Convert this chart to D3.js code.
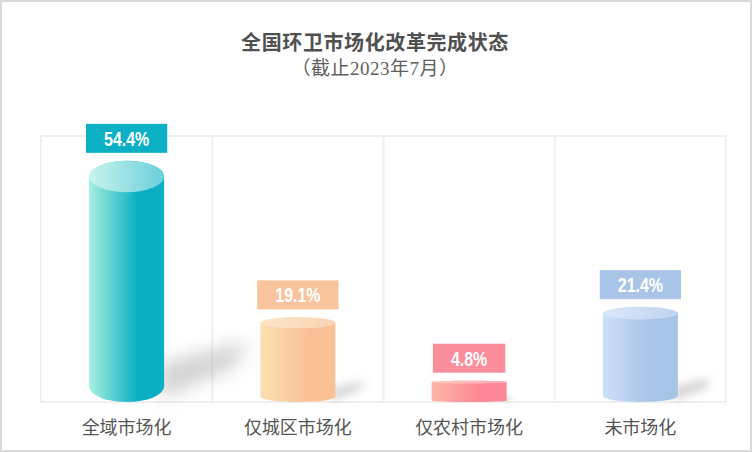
<!DOCTYPE html>
<html><head><meta charset="utf-8">
<script src="https://cdn.jsdelivr.net/npm/d3@7"></script>
<style>html,body{margin:0;padding:0;background:#fff;}svg{display:block;}</style>
</head><body><div id="chart"></div>
<script>
const categories = ["全域市场化","仅城区市场化","仅农村市场化","未市场化"];
const values = [54.4, 19.1, 4.8, 21.4];
const labels = ["54.4%","19.1%","4.8%","21.4%"];
const yTicks = [0, 60];
const labelColors = ["#0bb0c4","#f9c49b","#fb8d9b","#a8c5e8"];
const sideLight = ["#a6f0e0","#fcdfb0","#fbb7a7","#cddff7"];
const sideDark  = ["#0aafc4","#f9c195","#fc8797","#a6c3e8"];
const topLight  = ["#c8f4ee","#fce6c8","#fcc8c0","#dbe7f8"];
const topDark   = ["#6bcedb","#fad2b4","#fdaab4","#bfd4ef"];

const W = 752, H = 452;
const svg = d3.select("#chart").append("svg").attr("width", W).attr("height", H);
const defs = svg.append("defs");

svg.append("rect").attr("x",1).attr("y",1).attr("width",W-2).attr("height",H-2)
  .attr("fill","#fff").attr("stroke","#d9d9d9").attr("stroke-width",2);

const x = d3.scaleBand().domain(categories).range([41, 726]);
const y = d3.scaleLinear().domain([yTicks[0], yTicks[1]]).range([402, 136]);

// title
svg.append("text").attr("x",375).attr("y",43).attr("text-anchor","middle").attr("dominant-baseline","central")
  .attr("font-family","'Liberation Serif','Noto Sans CJK SC',serif").attr("font-weight","bold")
  .attr("font-size",20).attr("letter-spacing",0.6).attr("fill","#505050").text("全国环卫市场化改革完成状态");
svg.append("text").attr("x",375).attr("y",68).attr("text-anchor","middle").attr("dominant-baseline","central")
  .attr("font-family","'Liberation Serif','Noto Sans CJK SC',serif")
  .attr("font-size",19).attr("letter-spacing",0.5).attr("fill","#606060").text("（截止2023年7月）");

// grid
const grid = svg.append("g").attr("stroke","#efefef").attr("stroke-width",2);
const bounds = categories.map(c => x(c)).concat([x.range()[1]]);
bounds.forEach(b => grid.append("line").attr("x1",b).attr("x2",b).attr("y1",y(yTicks[1])).attr("y2",y(yTicks[0])));
yTicks.forEach(t => grid.append("line").attr("x1",x.range()[0]-1).attr("x2",x.range()[1]+1).attr("y1",y(t)).attr("y2",y(t)));

categories.forEach((c,i) => {
  const gs = defs.append("linearGradient").attr("id","side"+i).attr("x1","0%").attr("x2","100%");
  gs.append("stop").attr("offset","0%").attr("stop-color",sideLight[i]);
  gs.append("stop").attr("offset","65%").attr("stop-color",sideDark[i]);
  gs.append("stop").attr("offset","100%").attr("stop-color",sideDark[i]);
  const gt = defs.append("linearGradient").attr("id","top"+i).attr("x1","0%").attr("x2","100%");
  gt.append("stop").attr("offset","0%").attr("stop-color",topLight[i]);
  gt.append("stop").attr("offset","100%").attr("stop-color",topDark[i]);
  const hgt = y(0) - y(values[i]);
  const f = defs.append("filter").attr("id","blur"+i).attr("x","-50%").attr("y","-50%").attr("width","200%").attr("height","200%");
  f.append("feGaussianBlur").attr("stdDeviation", 2 + hgt*0.03);
});

const bw = x.bandwidth()*0.438;
const gBars = svg.append("g");
categories.forEach((c,i) => {
  const cx = x(c) + x.bandwidth()/2;
  const x0 = cx - bw/2, x1 = cx + bw/2;
  const yb = y(0), yt = y(values[i]);
  const hgt = yb - yt;
  const ry = Math.max(1, hgt*0.065);
  const rx = bw/2;
  gBars.append("path")
    .attr("d", `M${x1-4},${yb-0.16*hgt} L${x1+0.34*hgt},${yb-0.25*hgt} L${x1+0.30*hgt},${yb-0.15*hgt} L${x1-4},${yb-0.01*hgt}Z`)
    .attr("fill","#b5b5b5").attr("opacity",0.6).attr("filter","url(#blur"+i+")");
  gBars.append("path")
    .attr("d", `M${x0},${yt+ry} L${x0},${yb-ry} A${rx},${ry} 0 0 0 ${x1},${yb-ry} L${x1},${yt+ry} A${rx},${ry} 0 0 0 ${x0},${yt+ry}Z`)
    .attr("fill","url(#side"+i+")");
  gBars.append("ellipse").attr("cx",cx).attr("cy",yt+ry).attr("rx",rx).attr("ry",ry)
    .attr("fill","url(#top"+i+")");
});

// value labels
const sx = 0.76;
const gLab = svg.append("g");
categories.forEach((c,i) => {
  const cx = x(c) + x.bandwidth()/2;
  const yt = y(values[i]);
  const t = gLab.append("text").attr("transform",`translate(${cx},${yt-8-14.5}) scale(${sx},1)`)
    .attr("text-anchor","middle").attr("dominant-baseline","central")
    .attr("font-family","'Liberation Sans',Arial,sans-serif")
    .attr("font-weight","bold").attr("font-size",21).attr("fill","#fff").text(labels[i]);
  const tw = t.node().getComputedTextLength()*sx;
  gLab.insert("rect","text").attr("x",cx - tw/2 - 18).attr("y",yt-8-29).attr("width",tw+36).attr("height",29)
    .attr("fill",labelColors[i]);
});

// category labels
svg.append("g").selectAll("text").data(categories).join("text")
  .attr("x",d => x(d)+x.bandwidth()/2).attr("y",426).attr("text-anchor","middle").attr("dominant-baseline","central")
  .attr("font-family","'Noto Sans CJK SC',sans-serif").attr("font-size",18).attr("fill","#555")
  .text(d => d);
</script>
</body></html>
